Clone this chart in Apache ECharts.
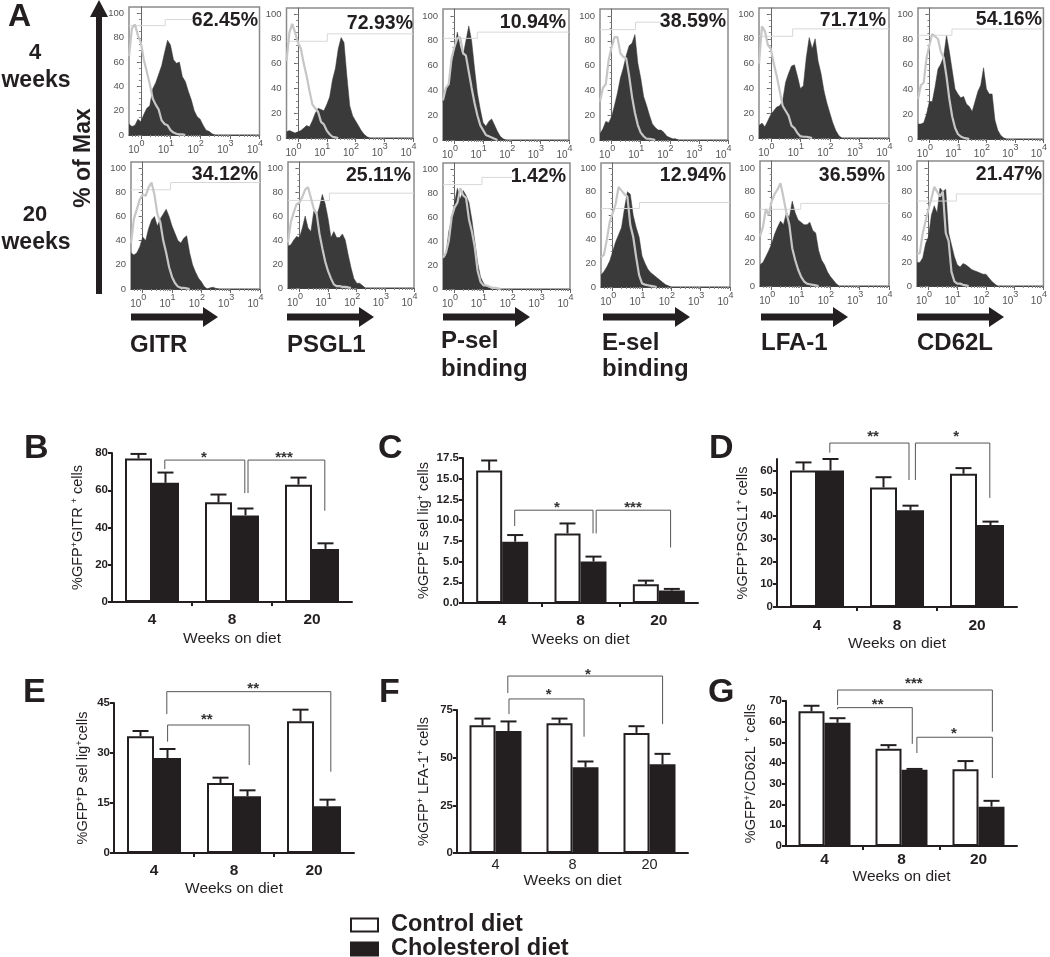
<!DOCTYPE html>
<html><head><meta charset="utf-8">
<style>html,body{margin:0;padding:0;background:#fff}#c{width:1050px;height:957px}</style>
<script src="https://cdn.jsdelivr.net/npm/echarts@6/dist/echarts.min.js"></script>
</head><body><div id="c"></div>
<script>
// ---------- histogram data (% of max per bin on the log-decade scale) ----------
const histBins=[-0.4,-0.3,-0.2,-0.1,0,0.1,0.2,0.3,0.4,0.5,0.6,0.7,0.8,0.9,1,1.1,1.2,1.3,1.4,1.5,1.6,1.7,1.8,1.9,2,2.1,2.2,2.3,2.4,2.5,2.6,2.7,2.8,2.9,3];
const gitr4Fill=[9,7,8,13,11,17,22,24,38,43,50,57,68,78,74,62,59,60,48,44,36,29,20,15,13,8,4,3,1,0];
const gitr4Ctrl=[65,88,91,82,76,62,52,42,30,25,21,12,9,8,4,2,1,0.5,0.5,0];
const psgl4Fill=[5,6,5,4,5,6,8,10,9,14,20,24,23,22,27,33,47,56,72,81,77,50,26,18,14,10,6,3,1,0];
const psgl4Ctrl=[62,85,92,85,77,72,60,50,38,27,24,21,13,11,6,3,1,0.5,0];
const psel4Fill=[30,42,45,62,72,87,75,68,80,92,80,58,38,25,14,11,15,17,12,7,3,1,0];
const psel4Ctrl=[32,42,45,66,75,82,83,70,68,55,42,30,20,12,8,4,3,2,1,0];
const esel4Fill=[5,9,15,14,19,28,38,50,58,68,76,78,85,62,50,35,28,20,13,10,8,8,6,3,2,1,1,0];
const esel4Ctrl=[31,42,45,65,75,83,83,70,67,66,52,35,22,12,6,3,1,1,0.5,0];
const lfa4Fill=[10,12,9,14,19,22,25,26,30,45,52,58,59,50,40,42,65,81,72,80,62,52,38,28,20,12,6,2,0];
const lfa4Ctrl=[60,90,86,75,72,60,50,38,26,22,18,10,8,4,1.5,1,1,0.5,0];
const cd62l4Fill=[12,12,13,20,30,30,42,56,60,66,83,70,55,40,36,33,34,28,26,22,30,38,43,57,40,36,36,15,7,3,1,0];
const cd62l4Ctrl=[32,43,45,65,75,84,82,80,70,65,50,32,18,9,4,2,1,0.5,0];
const gitr20Fill=[30,28,30,35,43,40,50,57,60,52,58,62,66,60,52,46,40,38,42,44,30,20,14,9,6,2,0,1,1.5,0.5,0];
const gitr20Ctrl=[38,58,66,74,78,77,84,88,78,62,55,40,30,18,10,5,2,1,1,0.5,0];
const psgl20Fill=[35,36,40,43,42,50,60,50,47,64,60,68,78,70,58,42,47,42,42,45,40,28,17,8,4,4,2,0];
const psgl20Ctrl=[38,55,63,70,71,76,82,84,75,66,62,45,33,22,14,8,3,1.5,1.5,1,1,0.5,0];
const psel20Fill=[25,28,48,58,72,84,75,82,78,72,58,40,22,10,5,2,1,0];
const psel20Ctrl=[26,30,40,60,68,72,84,78,76,58,48,35,15,6,3,3,2,1,1,0.5,0];
const esel20Fill=[10,13,17,22,30,38,44,50,66,80,78,60,50,42,26,20,15,12,10,8,6,4,2,1,0];
const esel20Ctrl=[25,27,40,55,62,70,84,81,78,76,52,42,25,10,3,2,1.5,1,0.5,0];
const lfa20Fill=[18,20,25,30,36,44,50,55,52,62,58,72,62,56,54,52,52,54,47,45,30,22,18,12,8,5,2,0];
const lfa20Ctrl=[42,50,65,60,72,78,82,87,75,62,52,32,22,14,8,4,2,1.5,1,0.5,0];
const cd62l20Fill=[20,20,24,36,42,60,68,62,83,80,82,45,35,25,18,16,19,18,16,14,13,12,11,10,10,7,4,2,0];
const cd62l20Ctrl=[27,28,45,55,65,74,84,80,76,80,45,38,12,4,2,2,1,0.5,0];
// gate: [gate position, left level, right level, right end]
const gitr4Gate=[0.82,90,95,1.76],psgl4Gate=[1.02,78,84,4],psel4Gate=[0.8,82,87,4],esel4Gate=[0.82,89,95,1.7],lfa4Gate=[0.74,82,88,4],cd62l4Gate=[0.79,83,88,4];
const gitr20Gate=[0.95,82,88,4],psgl20Gate=[1.05,73,79,4],psel20Gate=[0.95,87,93,1.99],esel20Gate=[0.91,66,71,4],lfa20Gate=[0.99,65,70,4],cd62l20Gate=[0.97,72,78,4];
const histPercents=['62.45%','72.93%','10.94%','38.59%','71.71%','54.16%','34.12%','25.11%','1.42%','12.94%','36.59%','21.47%'];
const histYTicks=[0,20,40,60,80,100];
const histXTicks=[0,1,2,3,4];

// ---------- bar data ----------
const weeks=['4','8','20'];
const gitrControl=[77,53.5,63],gitrControlErr=[2.5,4.2,3.8],gitrChol=[64,46.5,28.5],gitrCholErr=[5.5,3.7,3];
const eselControl=[16,8.4,2.25],eselControlErr=[1.2,1.2,0.45],eselChol=[7.4,5,1.5],eselCholErr=[0.8,0.6,0.2];
const psglControl=[60,52.5,58.5],psglControlErr=[3.5,4.5,2.5],psglChol=[60,42.5,36],psglCholErr=[5,2,1.5];
const pselControl=[35,21,39.5],pselControlErr=[1.6,1.6,3.5],pselChol=[28.5,17,14],pselCholErr=[2.7,1.8,2];
const lfaControl=[67,68,63],lfaControlErr=[3.5,2.5,3.5],lfaChol=[64,45,46.5],lfaCholErr=[5,3,5.5];
const cd62Control=[65,47,37],cd62ControlErr=[2.7,1.7,4],cd62Chol=[59.5,36.8,19],cd62CholErr=[2.2,0.4,2.8];
// significance brackets: [xLeft, yLeftEnd, xRight, yRightEnd, yTop, starX, starY, stars]
const gitrBrackets=[[0.66,71.4,1.66,58.5,76.2,1.15,79,'*'],[1.70,58.5,2.66,49,76.2,2.15,79,'***']];
const eselBrackets=[[0.66,9.3,1.66,8.4,11.2,1.2,11.8,'*'],[1.70,8.4,2.65,6.7,11.2,2.17,11.8,'***']];
const psglBrackets=[[0.66,67.8,1.65,55.8,72,1.2,76,'**'],[1.73,55.8,2.66,47.9,72,2.24,76,'*']];
const pselBrackets=[[0.67,33.4,1.69,26.4,38.4,1.16,40.8,'**'],[0.66,41.7,2.71,24.4,48.4,1.74,50,'**']];
const lfaBrackets=[[0.675,72.9,1.65,61,80.8,1.19,84.6,'*'],[0.66,83.9,2.67,67.6,92.8,1.7,95,'*']];
const cd62Brackets=[[0.67,66,1.64,49.3,66.8,1.19,69.7,'**'],[0.67,68,2.68,55.2,75.3,1.66,79.7,'***'],[1.70,44.9,2.68,32.8,52.5,2.18,55.7,'*']];

// ---------- layout (separate from data) ----------
const INK='#231f20', FONT='"Liberation Sans",Arial,sans-serif';
const histPanels=[
 [gitr4Fill,gitr4Ctrl,gitr4Gate,129,259.5,7,135,13.5,258,21],
 [psgl4Fill,psgl4Ctrl,psgl4Gate,286.5,413,8,138,14,413,24],
 [psel4Fill,psel4Ctrl,psel4Gate,443,569,9,140,16,566,23],
 [esel4Fill,esel4Ctrl,esel4Gate,600,728,9,140,16,726,22],
 [lfa4Fill,lfa4Ctrl,lfa4Gate,759,889,8,138,14,886,21],
 [cd62l4Fill,cd62l4Ctrl,cd62l4Gate,918,1046,8,139,14,1042,20],
 [gitr20Fill,gitr20Ctrl,gitr20Gate,131,260,162,289,168,258,175],
 [psgl20Fill,psgl20Ctrl,psgl20Gate,288,414,162,288,168,411,176],
 [psel20Fill,psel20Ctrl,psel20Gate,443,570,163,289,169,566,177],
 [esel20Fill,esel20Ctrl,esel20Gate,601,730,163,287,168,726,176],
 [lfa20Fill,lfa20Ctrl,lfa20Gate,760,889,161,286,168,885,176],
 [cd62l20Fill,cd62l20Ctrl,cd62l20Gate,917,1046,161,286,168,1042,175]
];
const barPanels=[
 {c:gitrControl,ce:gitrControlErr,h:gitrChol,he:gitrCholErr,br:gitrBrackets,L:112,W:240,T:453,H:149,max:80,step:20,yt:[0,20,40,60,80],name:'{t|%GFP}{s|+}{t|GITR }{s|+}{t| cells}',gap:26,lm:10,ng:29,lw:'bold',lf:15.5,bw:27,dec:0,ticks:true},
 {c:eselControl,ce:eselControlErr,h:eselChol,he:eselCholErr,br:eselBrackets,L:463,W:235,T:458,H:145,max:17.5,step:2.5,yt:[0,2.5,5,7.5,10,12.5,15,17.5],name:'{t|%GFP}{s|+}{t|E sel lig}{s|+}{t| cells}',gap:31,lm:10,ng:29,lw:'bold',lf:15.5,bw:26,dec:1,ticks:true},
 {c:psglControl,ce:psglControlErr,h:psglChol,he:psglCholErr,br:psglBrackets,L:777,W:240,T:459,H:148,max:65,step:10,yt:[0,10,20,30,40,50,60],name:'{t|%GFP}{s|+}{t|PSGL1}{s|+}{t| cells}',gap:26,lm:11,ng:29,lw:'bold',lf:15.5,bw:27,dec:0,ticks:true},
 {c:pselControl,ce:pselControlErr,h:pselChol,he:pselCholErr,br:pselBrackets,L:114,W:240,T:703,H:150,max:45,step:15,yt:[0,15,30,45],name:'{t|%GFP}{s|+}{t|P sel lig}{s|+}{t|cells}',gap:23,lm:10,ng:28,lw:'bold',lf:15.5,bw:27,dec:0,ticks:true},
 {c:lfaControl,ce:lfaControlErr,h:lfaChol,he:lfaCholErr,br:lfaBrackets,L:457,W:231,T:710,H:143,max:75,step:25,yt:[0,25,50,75],name:'{t|%GFP}{s|+}{t| LFA-1}{s|+}{t| cells}',gap:25,lm:4,ng:19,lw:'normal',lf:14.5,bw:26,dec:0,ticks:false},
 {c:cd62Control,ce:cd62ControlErr,h:cd62Chol,he:cd62CholErr,br:cd62Brackets,L:786,W:231,T:701,H:145,max:70,step:10,yt:[0,10,20,30,40,50,60,70],name:'{t|%GFP}{s|+}{t|/CD62L }{s|+}{t| cells}',gap:27,lm:6,ng:23,lw:'bold',lf:15.5,bw:26,dec:0,ticks:true}
];
const grid=[],xAxis=[],yAxis=[],series=[],graphic=[];
function txt(t,x,y,size,opt){opt=opt||{};graphic.push({type:'text',silent:true,x:x,y:y,rotation:opt.rot||0,style:{text:t,fill:INK,font:(opt.weight||'bold')+' '+size+'px '+FONT,textAlign:opt.align||'left',textVerticalAlign:'middle'}});}
const minorX=[-0.3,-0.2,-0.1];
[0,1,2,3].forEach(d=>[2,3,4,5,6,7,8,9].forEach(m=>minorX.push(d+Math.log10(m))));
const minorY=[];for(let v=0;v<=100;v+=5)minorY.push(v);

histPanels.forEach((p,pi)=>{
 const [fill,ctrl,gate,l,r,top,y0,y100,tr,ty]=p;
 const g=grid.length;
 grid.push({left:l,top:top,width:r-l,height:y0-top,show:true,borderColor:'#8a8a8a',borderWidth:1.5,backgroundColor:'#fff'});
 const ymax=(y0-top)/(y0-y100)*100;
 const xi=xAxis.length,yi=yAxis.length;
 xAxis.push({type:'value',position:'bottom',gridIndex:g,min:-0.4,max:4,splitLine:{show:false},
  axisLine:{onZero:false,lineStyle:{color:'#444',width:1}},
  axisTick:{customValues:histXTicks,length:4,lineStyle:{color:'#666'}},
  axisLabel:{customValues:histXTicks,margin:4,padding:[0,9,0,0],color:'#555',
    formatter:v=>'{a|10}{s|'+v+'}',
    rich:{a:{fontSize:10,fontFamily:FONT,color:'#555',padding:[6,0,0,0]},s:{fontSize:9,fontFamily:FONT,color:'#555',padding:[0,0,6,0]}}}});
 xAxis.push({type:'value',position:'bottom',gridIndex:g,min:-0.4,max:4,splitLine:{show:false},axisLine:{show:false,onZero:false},axisLabel:{show:false},
  axisTick:{customValues:minorX,length:2,lineStyle:{color:'#888'}}});
 yAxis.push({type:'value',position:'left',gridIndex:g,min:0,max:ymax,splitLine:{show:false},
  axisLine:{show:true,lineStyle:{color:'#666',width:1}},
  axisTick:{customValues:histYTicks,length:4,lineStyle:{color:'#666'}},
  axisLabel:{customValues:histYTicks,margin:5,fontSize:9.5,fontFamily:FONT,color:'#555'}});
 yAxis.push({type:'value',position:'left',gridIndex:g,min:0,max:ymax,splitLine:{show:false},axisLine:{show:false},axisLabel:{show:false},
  axisTick:{customValues:minorY,length:2,lineStyle:{color:'#888'}}});
 series.push({type:'line',xAxisIndex:xi,yAxisIndex:yi,data:fill.map((v,i)=>[histBins[i],v]),showSymbol:false,silent:true,
  lineStyle:{color:'#3a3a3a',width:0.5},areaStyle:{color:'#3a3a3a',opacity:1},z:2});
 series.push({type:'line',xAxisIndex:xi,yAxisIndex:yi,data:[[-0.4,gate[1]],[gate[0],gate[1]],[gate[0],gate[2]],[gate[3],gate[2]]],showSymbol:false,silent:true,
  lineStyle:{color:'#d8d8d8',width:1},z:3});
 series.push({type:'line',xAxisIndex:xi,yAxisIndex:yi,data:ctrl.map((v,i)=>[histBins[i],v]),showSymbol:false,silent:true,
  lineStyle:{color:'#c6c6c6',width:2.2},z:4});
 txt(histPercents[pi],tr,ty,19.5,{align:'right'});
});

barPanels.forEach(p=>{
 const g=grid.length;
 grid.push({left:p.L,top:p.T,width:p.W,height:p.H});
 const xi=xAxis.length,yi=yAxis.length;
 xAxis.push({type:'category',position:'bottom',gridIndex:g,data:weeks,boundaryGap:true,
  axisLine:{lineStyle:{color:INK,width:2}},axisTick:{show:false},
  axisLabel:{color:INK,fontFamily:FONT,fontWeight:p.lw,fontSize:p.lf,margin:p.lm},
  name:'Weeks on diet',nameLocation:'middle',nameGap:p.ng,nameTextStyle:{color:INK,fontFamily:FONT,fontSize:15.5}});
 xAxis.push({type:'value',position:'bottom',gridIndex:g,min:0,max:3,splitLine:{show:false},axisLine:{show:false,onZero:false},axisLabel:{show:false},
  axisTick:{show:p.ticks,customValues:[1,2],length:4,lineStyle:{color:INK,width:2}}});
 yAxis.push({type:'value',position:'left',gridIndex:g,min:0,max:p.max,splitLine:{show:false},
  axisLine:{show:true,lineStyle:{color:INK,width:2}},
  axisTick:{show:true,customValues:p.yt,length:4,lineStyle:{color:INK,width:2}},
  axisLabel:{customValues:p.yt,margin:4,color:INK,fontFamily:FONT,fontWeight:'bold',fontSize:11.5,formatter:v=>v.toFixed(p.dec)},
  name:p.name,nameLocation:'middle',nameGap:p.gap,
  nameTextStyle:{rich:{t:{fontSize:14.5,fontFamily:FONT,color:INK},s:{fontSize:9,fontFamily:FONT,color:INK,padding:[0,0,7,0]}}}});
 const bw=p.bw;
 series.push({name:'Control diet',type:'bar',xAxisIndex:xi,yAxisIndex:yi,data:p.c,barWidth:bw,barGap:'0%',silent:true,
  itemStyle:{color:'#fff',borderColor:INK,borderWidth:2},z:3});
 series.push({name:'Cholesterol diet',type:'bar',xAxisIndex:xi,yAxisIndex:yi,data:p.h,barWidth:bw,barGap:'0%',silent:true,
  itemStyle:{color:INK,borderColor:INK,borderWidth:2},z:3});
 // error bars
 const errData=[];
 weeks.forEach((w,i)=>{errData.push([i+0.5,p.c[i],p.c[i]+p.ce[i],-1]);errData.push([i+0.5,p.h[i],p.h[i]+p.he[i],1]);});
 series.push({type:'custom',xAxisIndex:xi+1,yAxisIndex:yi,data:errData,silent:true,z:2,encode:{x:0,y:[1,2]},
  renderItem:(params,api)=>{
   const dx=api.value(3)*bw/2;
   const a=api.coord([api.value(0),api.value(1)]),b=api.coord([api.value(0),api.value(2)]);
   const x=a[0]+dx,s={stroke:INK,lineWidth:2};
   return {type:'group',children:[
    {type:'line',shape:{x1:x,y1:a[1],x2:x,y2:b[1]},style:s},
    {type:'line',shape:{x1:x-8,y1:b[1],x2:x+8,y2:b[1]},style:s}]};
  }});
 // significance brackets
 series.push({type:'custom',xAxisIndex:xi+1,yAxisIndex:yi,data:p.br.map(b=>b.slice(0,7)),silent:true,z:5,encode:{x:[0,2],y:[1,3,4]},clip:false,
  renderItem:(params,api)=>{
   const b=p.br[params.dataIndex];
   const P=(x,y)=>api.coord([x,y]);
   const pts=[P(b[0],b[1]),P(b[0],b[4]),P(b[2],b[4]),P(b[2],b[3])];
   const st=P(b[5],b[6]);
   return {type:'group',children:[
    {type:'polyline',shape:{points:pts},style:{stroke:'#555',lineWidth:1,fill:null}},
    {type:'text',x:st[0],y:st[1]+3,style:{text:b[7],fill:'#333',font:'bold 15px '+FONT,textAlign:'center',textVerticalAlign:'middle'}}]};
  }});
});

// ---------- static annotation ----------
const blackArrow=(x,y,w)=>graphic.push({type:'polygon',silent:true,shape:{points:[[x,y-3.5],[x+w-15,y-3.5],[x+w-15,y-10],[x+w,y],[x+w-15,y+10],[x+w-15,y+3.5],[x,y+3.5]]},style:{fill:INK}});
graphic.push({type:'polygon',silent:true,shape:{points:[[99,0],[108,17],[102,17],[102,294],[96,294],[96,17],[90,17]]},style:{fill:INK}});
txt('% of Max',84,158,23,{rot:Math.PI/2,align:'center'});
txt('A',8,17,32);
txt('4',35,53,22,{align:'center'});txt('weeks',36,81,23,{align:'center'});
txt('20',35,215,22,{align:'center'});txt('weeks',36,243,23,{align:'center'});
[[131,317],[287,317],[443,317],[603,317],[761,317],[917,317]].forEach(a=>blackArrow(a[0],a[1],87));
txt('GITR',130,345,24);txt('PSGL1',287,345,24);
txt('P-sel',441,341,24);txt('binding',441,369,24);
txt('E-sel',602,343,24);txt('binding',602,369,24);
txt('LFA-1',761,343,24);txt('CD62L',917,343,24);
[['B',24,449],['C',378,449],['D',709,449],['E',23,693],['F',379,693],['G',708,693]].forEach(l=>txt(l[0],l[1],l[2],34));

const chart=echarts.init(document.getElementById('c'),null,{renderer:'canvas'});
chart.setOption({animation:false,backgroundColor:'#fff',grid,xAxis,yAxis,series,graphic,
 legend:{data:['Control diet','Cholesterol diet'],orient:'vertical',left:350,top:913,height:80,padding:0,itemWidth:27,itemHeight:13,itemGap:0,icon:'rect',
  selectedMode:false,textStyle:{color:INK,fontFamily:FONT,fontWeight:'bold',fontSize:23.5,lineHeight:21,padding:[0,0,0,8]}}});
</script></body></html>
